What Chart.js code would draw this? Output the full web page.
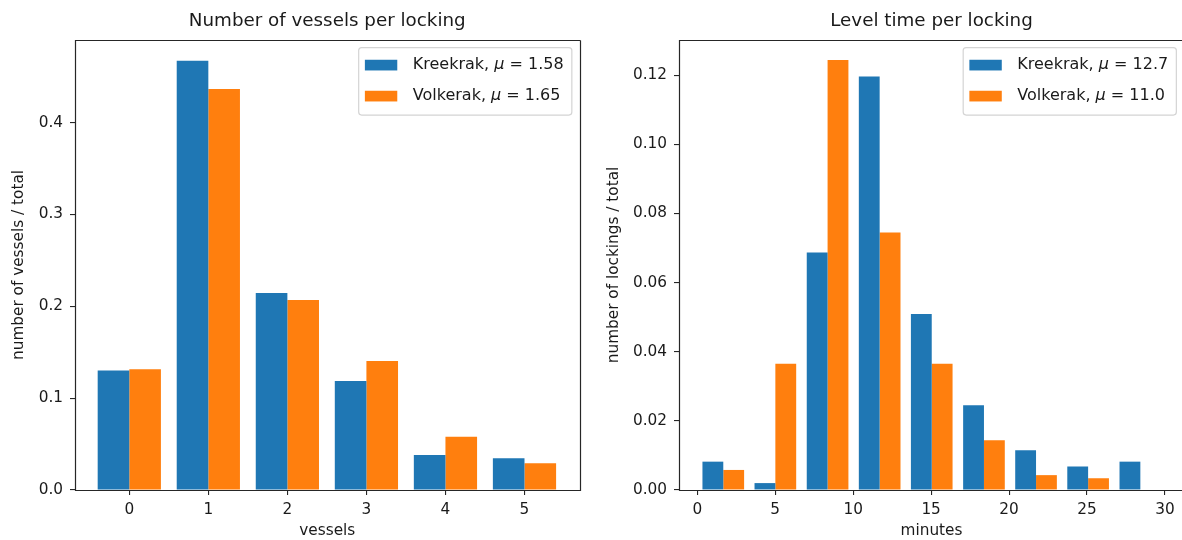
<!DOCTYPE html>
<html><head><meta charset="utf-8">
<script src="https://cdn.jsdelivr.net/npm/chart.js@4.4.0/dist/chart.umd.min.js"></script>
<style>
html,body{margin:0;padding:0;background:#fff;overflow:hidden;width:1182px;height:540px;}
#w1{position:absolute;left:0;top:0;width:600px;height:540px;}
#w2{position:absolute;left:600px;top:0;width:592px;height:540px;}
</style></head><body>
<div id="w1"><canvas id="c1"></canvas></div>
<div id="w2"><canvas id="c2"></canvas></div>
<script>
// ---- data ----
const seriesNames = ['Kreekrak', 'Volkerak'];

const vesselCategories = [0, 1, 2, 3, 4, 5];
const vesselsKreekrak = [0.130, 0.4675, 0.2145, 0.1187, 0.0381, 0.0345];
const vesselsVolkerak = [0.1314, 0.4367, 0.2069, 0.1405, 0.0580, 0.0290];
const vesselMeans = ['1.58', '1.65'];
const vesselXTicks = [0, 1, 2, 3, 4, 5];
const vesselYTicks = [0, 0.1, 0.2, 0.3, 0.4];

const minuteBinCenters = [1.67, 5.01, 8.36, 11.70, 15.04, 18.39, 21.73, 25.07, 28.42];
const levelKreekrak = [0.0082, 0.0020, 0.0687, 0.1196, 0.0509, 0.0245, 0.0115, 0.0068, 0.0082];
const levelVolkerak = [0.0058, 0.0365, 0.1244, 0.0745, 0.0365, 0.0144, 0.0043, 0.0034, 0.0];
const levelMeans = ['12.7', '11.0'];
const minuteXTicks = [0, 5, 10, 15, 20, 25, 30];
const levelYTicks = [0, 0.02, 0.04, 0.06, 0.08, 0.10, 0.12];

// ---- style ----
const BLUE = '#1f77b4', ORANGE = '#ff7f0e';
const FONT = '"DejaVu Sans", sans-serif';
const TXT = '#1a1a1a', AX = '#262626';
const FS = 15.3;
const LFS = 16;

const framePlugin = {
  id: 'frame',
  afterDatasetsDraw(chart) {
    const a = chart.chartArea, ctx = chart.ctx;
    const l = Math.round(a.left) + 0.5, t = Math.round(a.top) + 0.5;
    const r = Math.round(a.right) + 0.5, b = Math.round(a.bottom) + 0.5;
    const showRight = chart.canvas.id !== 'c2';
    ctx.save();
    ctx.strokeStyle = AX; ctx.lineWidth = 1.2;
    ctx.beginPath();
    ctx.moveTo(showRight ? r : chart.width, t);
    ctx.lineTo(l, t); ctx.lineTo(l, b); ctx.lineTo(showRight ? r : chart.width, b);
    if (showRight) ctx.lineTo(r, t);
    ctx.stroke();
    ctx.restore();
  }
};

const legendPlugin = {
  id: 'innerLegend',
  afterDraw(chart) {
    const ctx = chart.ctx, a = chart.chartArea;
    const normal = LFS + 'px ' + FONT, ital = 'italic ' + LFS + 'px ' + FONT;
    const items = chart.data.datasets.map(d => ({label: d.label, color: d.backgroundColor}));
    const parts = s => { const i = s.indexOf('μ'); return [s.slice(0, i), 'μ', s.slice(i + 1)]; };
    ctx.save();
    let maxW = 0;
    items.forEach(it => {
      const p = parts(it.label);
      ctx.font = normal; let w = ctx.measureText(p[0]).width + ctx.measureText(p[2]).width;
      ctx.font = ital; w += ctx.measureText(p[1]).width;
      it.w = w; maxW = Math.max(maxW, w);
    });
    const bp = 6.2, hl = 32.4, hh = 10.7, htp = 15.5, bap = 7.65;
    const W = bp + hl + htp + maxW + bp + 2, H = 67.5;
    const x0 = a.right - bap - W, y0 = a.top + bap;
    const r = 3;
    ctx.beginPath();
    ctx.moveTo(x0 + r, y0);
    ctx.lineTo(x0 + W - r, y0); ctx.arcTo(x0 + W, y0, x0 + W, y0 + r, r);
    ctx.lineTo(x0 + W, y0 + H - r); ctx.arcTo(x0 + W, y0 + H, x0 + W - r, y0 + H, r);
    ctx.lineTo(x0 + r, y0 + H); ctx.arcTo(x0, y0 + H, x0, y0 + H - r, r);
    ctx.lineTo(x0, y0 + r); ctx.arcTo(x0, y0, x0 + r, y0, r);
    ctx.closePath();
    ctx.fillStyle = 'rgba(255,255,255,0.8)'; ctx.fill();
    ctx.strokeStyle = '#d4d4d4'; ctx.lineWidth = 1.2; ctx.stroke();
    items.forEach((it, i) => {
      const cy = y0 + 17 + i * 31;
      ctx.fillStyle = it.color;
      ctx.fillRect(x0 + bp, cy - hh / 2 + 0.5, hl, hh);
      let tx = x0 + bp + hl + htp;
      const p = parts(it.label);
      ctx.fillStyle = TXT; ctx.textBaseline = 'middle'; ctx.textAlign = 'left';
      ctx.font = normal; ctx.fillText(p[0], tx, cy); tx += ctx.measureText(p[0]).width;
      ctx.font = ital; ctx.fillText(p[1], tx, cy); tx += ctx.measureText(p[1]).width;
      ctx.font = normal; ctx.fillText(p[2], tx, cy);
    });
    ctx.restore();
  }
};

function makeChart(id, o) {
  const ds = (i, vals, color) => ({
    label: seriesNames[i] + ', μ = ' + o.means[i],
    data: o.x.map((x, k) => ({x: x, y: vals[k]})),
    backgroundColor: color, borderWidth: 0,
    categoryPercentage: 0.8, barPercentage: 1.0
  });
  return new Chart(document.getElementById(id), {
    type: 'bar',
    data: { datasets: [ds(0, o.a, BLUE), ds(1, o.b, ORANGE)] },
    options: {
      responsive: true, maintainAspectRatio: false, animation: false,
      layout: { padding: { left: 0, right: o.padRight, top: 0, bottom: 0 } },
      plugins: {
        legend: { display: false }, tooltip: { enabled: false },
        title: { display: true, text: o.title, fullSize: false, color: TXT,
                 font: { family: FONT, size: 18.3, weight: 'normal' },
                 padding: { top: 10, bottom: 8 } }
      },
      scales: {
        x: {
          type: 'linear', min: o.xmin, max: o.xmax, offset: false,
          afterBuildTicks: s => { s.ticks = o.xticks.map(v => ({value: v})); },
          afterFit: s => { s.height = 50; },
          ticks: { color: TXT, font: { family: FONT, size: FS }, padding: 6,
                   maxRotation: 0, autoSkip: false, callback: v => String(v) },
          grid: { display: true, drawOnChartArea: false, drawTicks: true, tickLength: 5,
                  tickColor: AX, lineWidth: 1.1, offset: false },
          border: { display: false },
          title: { display: true, text: o.xlabel, color: TXT,
                   font: { family: FONT, size: FS }, padding: { top: 0, bottom: 0 } }
        },
        y: {
          type: 'linear', min: 0, max: o.ymax,
          afterBuildTicks: s => { s.ticks = o.yticks.map(v => ({value: v})); },
          afterFit: s => { s.width = o.yw; },
          ticks: { color: TXT, font: { family: FONT, size: FS }, padding: 7,
                   callback: v => Number(v).toFixed(o.dec) },
          grid: { display: true, drawOnChartArea: false, drawTicks: true, tickLength: 5,
                  tickColor: AX, lineWidth: 1.1 },
          border: { display: false },
          title: { display: true, text: o.ylabel, color: TXT,
                   font: { family: FONT, size: FS }, padding: { top: o.ytpad, bottom: 0 } }
        }
      }
    },
    plugins: [framePlugin, legendPlugin]
  });
}

makeChart('c1', {
  x: vesselCategories, a: vesselsKreekrak, b: vesselsVolkerak, means: vesselMeans,
  title: 'Number of vessels per locking', xlabel: 'vessels', ylabel: 'number of vessels / total',
  xmin: -0.687, xmax: 5.696, xticks: vesselXTicks, ymax: 0.49, yticks: vesselYTicks, dec: 1,
  yw: 75, ytpad: 10, padRight: 20.5
});
makeChart('c2', {
  x: minuteBinCenters, a: levelKreekrak, b: levelVolkerak, means: levelMeans,
  title: 'Level time per locking', xlabel: 'minutes', ylabel: 'number of lockings / total',
  xmin: -1.17, xmax: 31.22, xticks: minuteXTicks, ymax: 0.1302, yticks: levelYTicks, dec: 2,
  yw: 79, ytpad: 4.8, padRight: 8
});
</script>
</body></html>
